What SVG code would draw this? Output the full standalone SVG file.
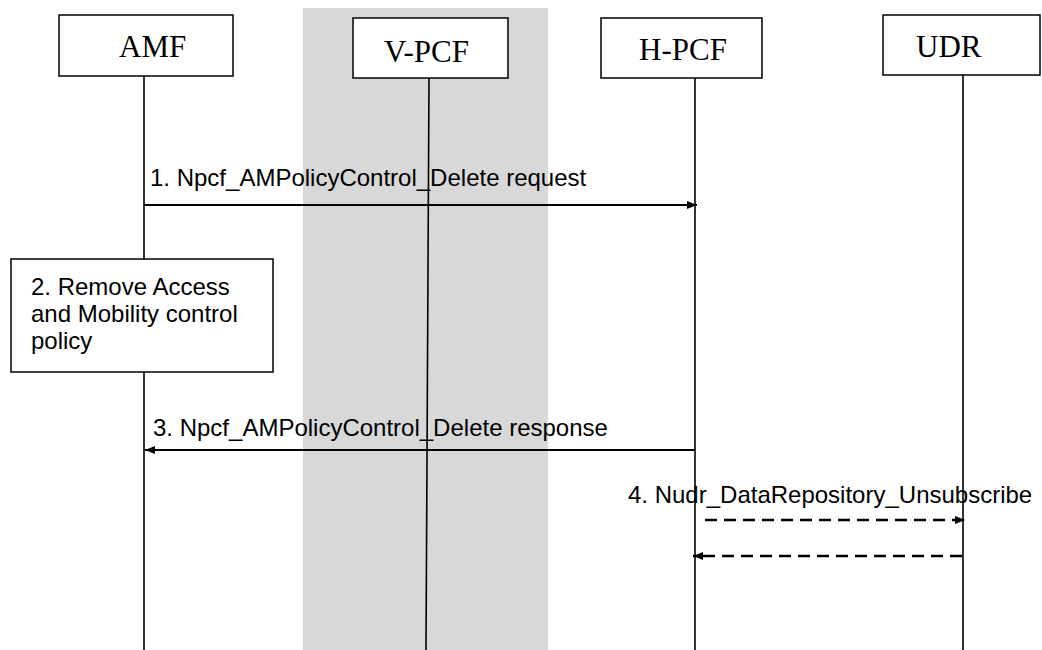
<svg xmlns="http://www.w3.org/2000/svg" width="1042" height="650" viewBox="0 0 1042 650">
<style>
.box{fill:#fff;stroke:#000;stroke-width:1.5}
.ent{font-family:"Liberation Serif",serif;font-size:31px;fill:#000}
.lbl{font-family:"Liberation Sans",Arial,sans-serif;font-size:24px;fill:#000}
.life{stroke:#000;stroke-width:1.6;fill:none}
.msg{stroke:#000;stroke-width:2;fill:none}
.dash{stroke-width:2.5;stroke-dasharray:12 7}
</style>
<defs>
<marker id="ah" viewBox="0 0 10 8" refX="10" refY="4" markerWidth="10" markerHeight="8" markerUnits="userSpaceOnUse" orient="auto">
<path d="M0,0 L10,4 L0,8 Z" fill="#000"/>
</marker>
</defs>
<rect x="303" y="8" width="245" height="642" fill="#d8d8d8"/>
<g id="lifelines">
<line class="life" x1="144" y1="76" x2="144" y2="650"/>
<line class="life" x1="429" y1="78" x2="426" y2="650"/>
<line class="life" x1="695" y1="78" x2="695" y2="650"/>
<line class="life" x1="963" y1="75" x2="963" y2="650"/>
</g>
<g id="AMF">
<rect class="box" x="59" y="15" width="174" height="61"/>
<text class="ent" x="119" y="57">AMF</text>
</g>
<g id="V-PCF">
<rect class="box" x="353" y="18" width="155" height="60"/>
<text class="ent" x="384" y="62">V-PCF</text>
</g>
<g id="H-PCF">
<rect class="box" x="601" y="18" width="161" height="60"/>
<text class="ent" x="639" y="60">H-PCF</text>
</g>
<g id="UDR">
<rect class="box" x="883" y="15" width="157" height="60"/>
<text class="ent" x="916" y="57">UDR</text>
</g>
<g id="step2">
<rect class="box" x="11" y="259" width="262" height="113"/>
<text class="lbl" x="31" y="295">2. Remove Access</text>
<text class="lbl" x="31" y="322">and Mobility control</text>
<text class="lbl" x="31" y="349">policy</text>
</g>
<g id="connectors">
<line class="msg" x1="144" y1="205" x2="697" y2="205" marker-end="url(#ah)"/>
<text class="lbl" x="150" y="186">1. Npcf_AMPolicyControl_Delete request</text>
<line class="msg" x1="695" y1="450" x2="145" y2="450" marker-end="url(#ah)"/>
<text class="lbl" x="153" y="436">3. Npcf_AMPolicyControl_Delete response</text>
<text class="lbl" x="628" y="503">4. Nudr_DataRepository_Unsubscribe</text>
<line class="msg dash" x1="705" y1="520" x2="965" y2="520" marker-end="url(#ah)"/>
<line class="msg dash" x1="962" y1="556" x2="693" y2="556" marker-end="url(#ah)"/>
</g>
</svg>
